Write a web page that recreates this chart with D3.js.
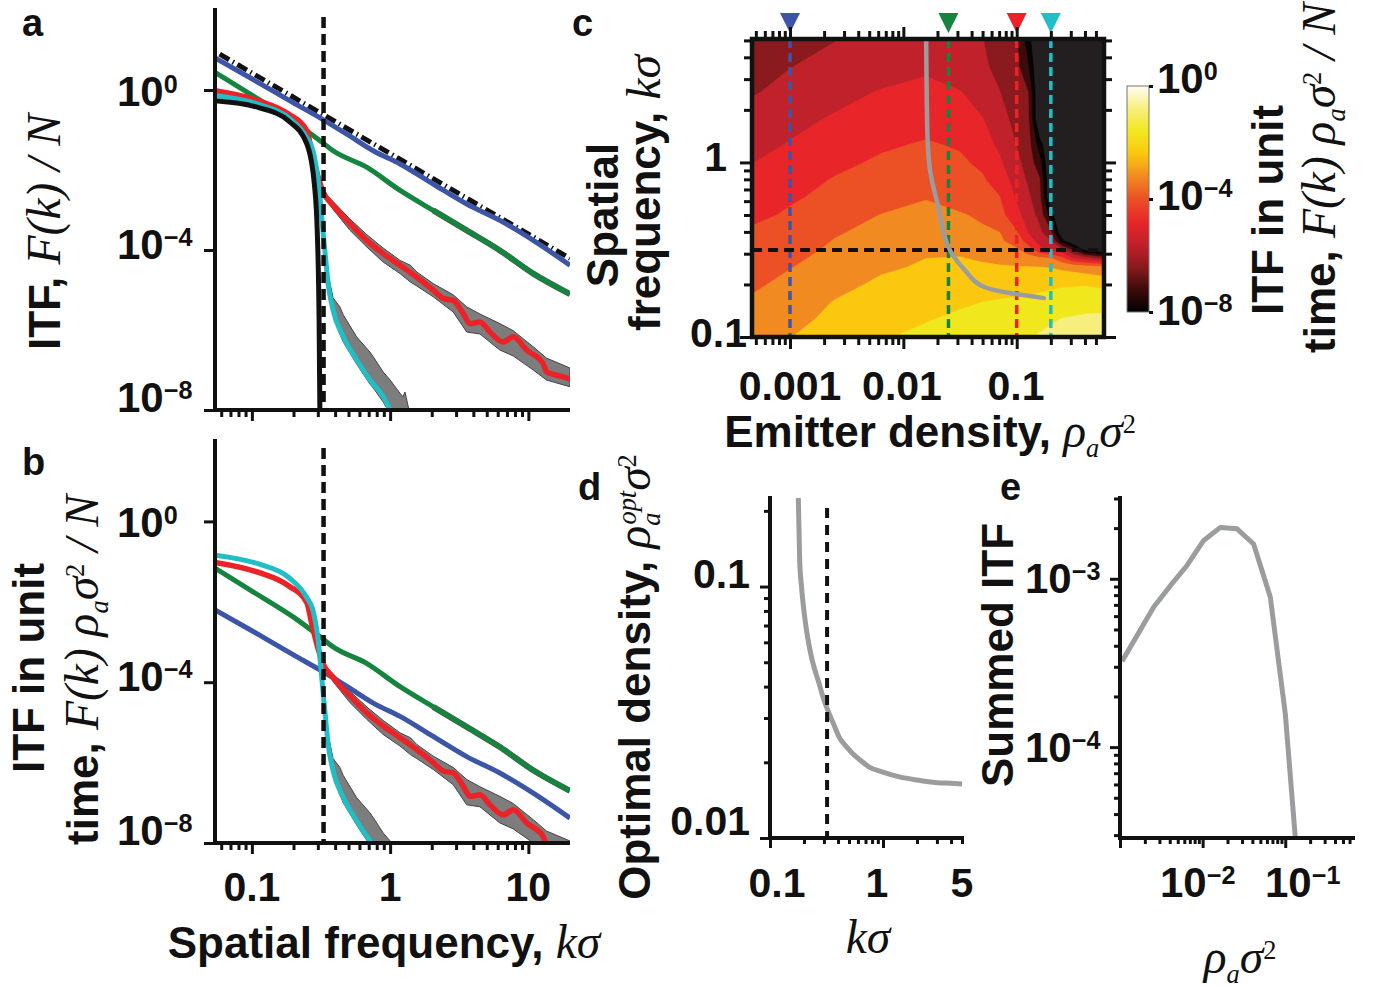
<!DOCTYPE html>
<html>
<head>
<meta charset="utf-8">
<script src="https://cdn.jsdelivr.net/npm/d3@7"></script>
<style>
  body { margin: 0; background: #fff; }
  svg { display: block; }
</style>
</head>
<body>
<svg id="fig" width="1373" height="988"></svg>
<script>
// ---- panel a / b : ITF curves (log10 of F(k)/N) ----
const kRef = [0.0585, 20];
const itfRef = [0.895, -4.21];

const kBlue = [0.0541, 0.1, 0.2, 0.32, 0.5, 0.755, 1.18, 2.05, 3.58, 6.22, 10.85, 20];
const itfBlue = [0.8, 0.28, -0.32, -0.72, -1.13, -1.52, -1.85, -2.35, -2.85, -3.26, -3.76, -4.38];

const kGreen = [0.0541, 0.1, 0.2, 0.32, 0.387, 0.676, 1.18, 2.05, 3.58, 6.22, 10.85, 20];
const itfGreen = [0.44, -0.13, -0.78, -1.3, -1.52, -1.93, -2.51, -3.01, -3.51, -4.01, -4.59, -5.1];

const kRed = [0.0541, 0.112, 0.184, 0.25, 0.27, 0.302, 0.328, 0.387, 0.512, 0.676, 0.891, 1.18, 1.56,
  2.05, 2.42, 2.86, 3.38, 3.78, 4.46, 5.27, 6.58, 7.78, 9.7, 12.8, 13.5, 17.9, 20];
const itfRed = [-0.02, -0.27, -0.6, -1.02, -1.52, -2.18, -2.55, -2.89, -3.34, -3.76, -4.09, -4.38, -4.68,
  -5.0, -5.21, -5.26, -5.59, -5.84, -5.8, -6.05, -6.3, -6.17, -6.5, -6.84, -7.04, -7.17, -7.22];

const kCyan = [0.0541, 0.112, 0.184, 0.25, 0.277, 0.3, 0.315, 0.328, 0.337, 0.356, 0.387, 0.458, 0.572,
  0.714, 0.891, 1.0, 1.1];
const itfCyan = [-0.14, -0.36, -0.69, -1.2, -1.52, -2.2, -2.9, -3.59, -4.0, -4.84, -5.51, -6.17, -6.75,
  -7.25, -7.67, -8.0, -8.3];

const kIdeal = [0.0541, 0.112, 0.184, 0.25, 0.283, 0.2975, 0.305, 0.3104, 0.312];
const itfIdeal = [-0.27, -0.44, -0.77, -1.35, -2.35, -3.59, -5.26, -8.05, -10];

// grey spread around the red and cyan curves
const kRedBand = [0.33, 0.39, 0.51, 0.68, 0.89, 1.18, 1.4, 1.56, 2.05, 2.86, 3.58, 4.46, 6.22, 7.78, 10.85, 13.5, 20];
const redBandHi = [-2.55, -2.8, -3.22, -3.62, -3.95, -4.26, -4.38, -4.55, -4.84, -5.12, -5.42, -5.6, -5.84,
  -6.02, -6.42, -6.7, -6.95];
const redBandLo = [-2.65, -3.0, -3.5, -3.93, -4.3, -4.59, -4.8, -4.9, -5.17, -5.55, -6.05, -6.1, -6.5,
  -6.65, -7.0, -7.25, -7.42];

const kCyanBand = [0.337, 0.356, 0.387, 0.433, 0.458, 0.572, 0.714, 0.755, 0.891, 1.0, 1.177, 1.24, 1.28, 1.39];
const cyanBandHi = [-3.95, -4.6, -5.2, -5.42, -5.62, -6.17, -6.55, -6.67, -7.05, -7.25, -7.58, -7.67, -7.55, -8.1];
const cyanBandLo = [-4.05, -4.95, -5.65, -6.1, -6.3, -6.85, -7.35, -7.45, -7.8, -8.1, -8.3, -8.4, -8.4, -8.4];

// emitter densities of the four example curves (rho_a sigma^2)
const exampleDensity = [0.001, 0.025, 0.1, 0.2];
const exampleColor = ["#3d55a6", "#15843f", "#ec2227", "#22bec7"];

// ---- panel c : log10 ITF per unit time on a (density, k) grid ----
const gridLogRho = [-3.335, -3.0, -2.6, -2.2, -1.8, -1.5, -1.3, -1.15, -1.0, -0.9, -0.8, -0.7, -0.6, -0.5, -0.4, -0.23];
const gridLogK = [0.7, 0.55, 0.4, 0.25, 0.1, 0, -0.1, -0.2, -0.3, -0.4, -0.45, -0.5, -0.55, -0.6, -0.7, -0.8, -0.9, -1.0];
const itfGrid = [
  [-6.2, -5.93, -5.61, -5.41, -5.22, -5.44, -5.58, -5.94, -6.32, -7.68, -9, -9, -9, -9, -9, -9],
  [-5.89, -5.62, -5.39, -5.16, -4.92, -5.26, -5.5, -5.78, -6.21, -7.13, -9, -9, -9, -9, -9, -9],
  [-5.66, -5.38, -5.04, -4.75, -4.6, -4.76, -5.17, -5.58, -6.05, -6.37, -9, -9, -9, -9, -9, -9],
  [-5.3, -5.02, -4.72, -4.5, -4.27, -4.58, -4.78, -5.31, -5.86, -6.22, -9, -9, -9, -9, -9, -9],
  [-5.03, -4.75, -4.42, -4.1, -3.93, -4.07, -4.52, -4.93, -5.62, -6.06, -7.6, -9, -9, -9, -9, -9],
  [-4.82, -4.53, -4.17, -3.9, -3.7, -3.89, -4.15, -4.7, -5.41, -5.93, -6.9, -9, -9, -9, -9, -9],
  [-4.56, -4.28, -3.95, -3.71, -3.47, -3.74, -3.92, -4.34, -5.17, -5.71, -6.32, -9, -9, -9, -9, -9],
  [-4.38, -4.1, -3.8, -3.52, -3.24, -3.58, -3.8, -3.98, -4.92, -5.46, -6.14, -9, -9, -9, -9, -9],
  [-4.2, -3.9, -3.54, -3.19, -2.99, -3.13, -3.35, -3.75, -4.56, -5.2, -5.83, -7.68, -9, -9, -9, -9],
  [-3.88, -3.6, -3.26, -3.02, -2.81, -2.9, -3.07, -3.2, -3.95, -4.82, -5.42, -6.24, -9, -9, -9, -9],
  [-3.79, -3.5, -3.17, -2.95, -2.73, -2.75, -2.94, -3.09, -3.52, -4.39, -5.08, -5.6, -7.71, -9, -9, -9],
  [-3.7, -3.41, -3.1, -2.87, -2.64, -2.52, -2.77, -2.94, -3.12, -3.58, -4.57, -5.07, -5.44, -6.6, -8.3, -9],
  [-3.6, -3.32, -3.0, -2.7, -2.4, -2.37, -2.49, -2.65, -2.82, -2.93, -3.03, -3.14, -3.78, -4.8, -5.16, -5.9],
  [-3.52, -3.23, -2.87, -2.51, -2.32, -2.25, -2.29, -2.32, -2.35, -2.37, -2.39, -2.44, -2.57, -2.7, -2.84, -3.08],
  [-3.32, -3.01, -2.62, -2.27, -2.07, -1.98, -1.93, -1.9, -1.85, -1.83, -1.81, -1.74, -1.69, -1.68, -1.65, -1.79],
  [-3.1, -2.81, -2.36, -2.07, -1.86, -1.71, -1.6, -1.55, -1.49, -1.45, -1.37, -1.29, -1.2, -1.14, -1.06, -1.04],
  [-2.9, -2.59, -2.24, -1.94, -1.65, -1.45, -1.35, -1.32, -1.22, -1.15, -1.04, -0.89, -0.77, -0.72, -0.68, -0.66],
  [-2.72, -2.42, -2.04, -1.68, -1.4, -1.19, -1.09, -1.0, -0.93, -0.86, -0.72, -0.6, -0.5, -0.45, -0.4, -0.38],
];
const itfLevels = [-8, -7.2, -6.4, -5.6, -4.8, -4.0, -3.2, -2.4, -1.6, -0.8];
const levelColors = ["#070303", "#3d0b0c", "#8a1a1d", "#c1212a", "#e8262a", "#eb5125", "#f18b21",
  "#fbc70f", "#f1e71d", "#f6ef7e"];

// optimal density ridge drawn over panel c
const ridgeK = [5.16, 1.47, 0.9, 0.575, 0.314, 0.241, 0.192, 0.178, 0.167];
const ridgeRho = [0.0159, 0.0163, 0.0172, 0.0201, 0.0258, 0.035, 0.0532, 0.0892, 0.174];

// ---- panel d : optimal density vs k sigma ----
const optK = [0.178, 0.183, 0.19, 0.199, 0.215, 0.236, 0.27, 0.3, 0.333, 0.37, 0.409, 0.47, 0.538, 0.62,
  0.75, 1.0, 1.4, 2.0, 3.0, 4.0, 5.0];
const optRho = [0.225, 0.128, 0.1, 0.081, 0.063, 0.051, 0.0416, 0.0354, 0.0313, 0.028, 0.0252, 0.0232, 0.0217,
  0.0205, 0.0192, 0.0183, 0.0175, 0.017, 0.0166, 0.0165, 0.0164];

// ---- panel e : summed ITF vs density ----
const sumRho = [0.00106, 0.00256, 0.00407, 0.00647, 0.0103, 0.0164, 0.0261, 0.0414, 0.0659, 0.1, 0.132];
const sumItf = [3.24e-4, 6.8e-4, 9.1e-4, 1.2e-3, 1.69e-3, 2.02e-3, 1.98e-3, 1.61e-3, 7.8e-4, 1.59e-4, 2.95e-5];

const FONT_B = '"Liberation Sans", Arial, Helvetica, sans-serif';
const FONT_S = '"Liberation Serif", "Times New Roman", serif';
const INK = "#111";
const GREY = "#9b9c9e";

const svg = d3.select("#fig");
const defs = svg.append("defs");

function richText(parent, parts, { x, y, size, anchor = "start", rotate = 0 }) {
  const text = parent.append("text")
    .attr("transform", `translate(${x},${y}) rotate(${rotate})`)
    .attr("text-anchor", anchor)
    .attr("font-size", size)
    .attr("fill", INK);
  let offset = 0;
  parts.forEach(([str, style, pos, dx]) => {
    const fs = pos ? size * 0.6 : style === "b" ? size : size * 1.08;
    const target = pos === "sup" ? -size * 0.31 : pos === "sub" ? size * 0.22 : 0;
    const span = text.append("tspan").text(str)
      .attr("font-family", style === "b" ? FONT_B : FONT_S)
      .attr("font-weight", style === "b" ? "bold" : "normal")
      .attr("font-style", style === "m" ? "italic" : "normal")
      .attr("font-size", fs);
    if (target !== offset) span.attr("dy", target - offset);
    if (dx) span.attr("dx", dx);
    offset = target;
  });
  return text;
}

function powLabel(g, x, y, exp, anchor = "start") {
  richText(g, [["10", "b"], [exp, "b", "sup"]], { x, y, size: 42, anchor });
}

function plainLabel(g, x, y, str, anchor = "middle") {
  richText(g, [[str, "b"]], { x, y, size: 41, anchor });
}

function minorTicks(lo, hi) {
  const out = [];
  for (let e = Math.floor(Math.log10(lo)) - 1; e <= Math.ceil(Math.log10(hi)); e++) {
    for (let m = 2; m <= 9; m++) {
      const v = m * 10 ** e;
      if (v >= lo * 0.999 && v <= hi * 1.001) out.push(v);
    }
  }
  return out;
}

function ticks(g, axisFn, scale, values, size, transform) {
  g.append("g")
    .attr("transform", transform)
    .call(axisFn(scale).tickValues(values).tickSize(size).tickFormat(""))
    .call((s) => s.select(".domain").remove())
    .selectAll("line")
    .attr("stroke", INK)
    .attr("stroke-width", 3);
}

function axisLine(g, x1, y1, x2, y2, w = 4) {
  g.append("line")
    .attr("x1", x1).attr("y1", y1).attr("x2", x2).attr("y2", y2)
    .attr("stroke", INK).attr("stroke-width", w).attr("stroke-linecap", "square");
}

function clipRect(id, x, y, w, h) {
  defs.append("clipPath").attr("id", id)
    .append("rect").attr("x", x).attr("y", y).attr("width", w).attr("height", h);
  return `url(#${id})`;
}

function panelLabel(ch, x, y) {
  richText(svg, [[ch, "b"]], { x, y, size: 38 });
}

// ---------------- panels a and b ----------------
const abX = d3.scaleLog().domain([0.0541, 19.35]).range([215, 568]);

function createItfPanel(id, top, bottom, perUnitTime) {
  const y = d3.scaleLinear().domain([-8, 2]).range([bottom, top]);
  const g = svg.append("g");
  const plot = g.append("g").attr("clip-path", clipRect(id, 215, top - 4, 355, bottom - top + 4));

  const shift = (i) => (perUnitTime ? Math.log10(exampleDensity[i]) : 0);
  const line = (ks, vs, s, curve = d3.curveLinear) =>
    d3.line().curve(curve).x((d, j) => abX(ks[j])).y((d) => y(d + s))(vs);
  const band = (ks, lo, hi, s) =>
    d3.area().x((d, j) => abX(ks[j])).y0((d, j) => y(lo[j] + s)).y1((d) => y(d + s))(hi);

  plot.append("path").attr("d", band(kRedBand, redBandLo, redBandHi, shift(2)))
    .attr("fill", "#7d7d7d").attr("stroke", "#444").attr("stroke-width", 1);
  plot.append("path").attr("d", band(kCyanBand, cyanBandLo, cyanBandHi, shift(3)))
    .attr("fill", "#7d7d7d").attr("stroke", "#444").attr("stroke-width", 1);

  if (!perUnitTime) {
    plot.append("path").attr("d", line(kRef, itfRef, 0))
      .attr("fill", "none").attr("stroke", INK).attr("stroke-width", 5)
      .attr("stroke-dasharray", "11,4,1.5,4");
  }

  // thin dark outline under the green curve at high k
  const gi = kGreen.findIndex((k) => k >= 1.5);
  plot.append("path").attr("d", line(kGreen.slice(gi), itfGreen.slice(gi), shift(1), d3.curveMonotoneX))
    .attr("fill", "none").attr("stroke", "#555").attr("stroke-width", 6);

  const curves = [
    [kBlue, itfBlue, 0, 5],
    [kGreen, itfGreen, 1, 5],
    [kRed, itfRed, 2, 5.5],
    [kCyan, itfCyan, 3, 5],
  ];
  curves.forEach(([ks, vs, i, w]) => {
    plot.append("path").attr("d", line(ks, vs, shift(i), d3.curveMonotoneX))
      .attr("fill", "none").attr("stroke", exampleColor[i]).attr("stroke-width", w)
      .attr("stroke-linejoin", "round");
  });

  if (!perUnitTime) {
    plot.append("path").attr("d", line(kIdeal, itfIdeal, 0, d3.curveMonotoneX))
      .attr("fill", "none").attr("stroke", INK).attr("stroke-width", 5);
  }

  // k sigma = 1/3 marker
  g.append("line")
    .attr("x1", abX(0.33)).attr("x2", abX(0.33))
    .attr("y1", top + 7).attr("y2", bottom)
    .attr("stroke", INK).attr("stroke-width", 4.5).attr("stroke-dasharray", "11,6");

  axisLine(g, 215, top, 215, bottom);
  axisLine(g, 215, bottom, 568, bottom);
  ticks(g, d3.axisBottom, abX, minorTicks(0.0541, 19.35), 7, `translate(0,${bottom})`);
  ticks(g, d3.axisBottom, abX, [0.1, 1, 10], 11, `translate(0,${bottom})`);
  ticks(g, d3.axisLeft, y, [0, -4, -8], 11, "translate(215,0)");

  const offs = [16, 9, 2];
  [["0", 0], ["\u22124", -4], ["\u22128", -8]].forEach(([e, v], i) => powLabel(g, 117, y(v) + offs[i], e));
  return g;
}

const gA = createItfPanel("clipA", 10, 410, false);
const gB = createItfPanel("clipB", 441, 843, true);

[["0.1", 0.1], ["1", 1], ["10", 10]].forEach(([t, v]) => plainLabel(gB, abX(v), 901, t));

richText(svg, [["ITF, ", "b"], ["F(k) / N", "m"]], { x: 60, y: 232, size: 44, anchor: "middle", rotate: -90 });
richText(svg, [["ITF in unit", "b"]], { x: 44, y: 668, size: 44, anchor: "middle", rotate: -90 });
richText(svg, [["time, ", "b"], ["F(k) \u03c1", "m"], ["a", "m", "sub"], ["\u03c3", "m"], ["2", "r", "sup"], [" / N", "m"]],
  { x: 98, y: 670, size: 44, anchor: "middle", rotate: -90 });
richText(svg, [["Spatial frequency, ", "b"], ["k\u03c3", "m"]], { x: 384, y: 958, size: 44, anchor: "middle" });

panelLabel("a", 22, 36);
panelLabel("b", 22, 475);

// ---------------- panel c ----------------
function createDensityMap() {
  const x = d3.scaleLog().domain([10 ** -3.335, 10 ** -0.23]).range([752, 1104]);
  const y = d3.scaleLog().domain([0.1, 10 ** 0.707]).range([337, 39]);
  const g = svg.append("g");
  const heat = g.append("g").attr("clip-path", clipRect("clipC", 752, 39, 352, 298));

  heat.append("rect").attr("x", 752).attr("y", 39).attr("width", 352).attr("height", 298).attr("fill", "#231f20");

  const nx = gridLogRho.length;
  const ny = gridLogK.length;
  const along = (c, arr) => {
    const f = Math.max(0, Math.min(arr.length - 1, c - 0.5));
    const i = Math.min(arr.length - 2, Math.floor(f));
    return arr[i] + (f - i) * (arr[i + 1] - arr[i]);
  };
  const toPx = ([cx, cy]) => [x(10 ** along(cx, gridLogRho)), y(10 ** along(cy, gridLogK))];
  const geo = d3.geoPath();
  d3.contours().size([nx, ny]).thresholds(itfLevels)(itfGrid.flat()).forEach((c, i) => {
    const poly = { type: "MultiPolygon", coordinates: c.coordinates.map((p) => p.map((r) => r.map(toPx))) };
    heat.append("path").attr("d", geo(poly)).attr("fill", levelColors[i])
      .attr("stroke", levelColors[i]).attr("stroke-width", 0.6);
  });

  // example densities
  exampleDensity.forEach((d, i) => {
    heat.append("line").attr("x1", x(d)).attr("x2", x(d)).attr("y1", 39).attr("y2", 337)
      .attr("stroke", exampleColor[i]).attr("stroke-width", 3.5).attr("stroke-dasharray", "9,5");
    const cx = x(d);
    g.append("path").attr("d", `M${cx - 10},13L${cx + 10},13L${cx},33Z`).attr("fill", exampleColor[i]);
  });
  heat.append("line").attr("x1", 752).attr("x2", 1104).attr("y1", y(0.315)).attr("y2", y(0.315))
    .attr("stroke", INK).attr("stroke-width", 4).attr("stroke-dasharray", "10,6");

  heat.append("path")
    .attr("d", d3.line().curve(d3.curveMonotoneY).x((d, j) => x(ridgeRho[j])).y((d) => y(d))(ridgeK))
    .attr("fill", "none").attr("stroke", GREY).attr("stroke-width", 4.5).attr("stroke-linecap", "round");

  g.append("rect").attr("x", 752).attr("y", 39).attr("width", 352).attr("height", 298)
    .attr("fill", "none").attr("stroke", INK).attr("stroke-width", 4.5);

  const xMinor = minorTicks(10 ** -3.335, 10 ** -0.23);
  const yMinor = minorTicks(0.1, 10 ** 0.707);
  ticks(g, d3.axisBottom, x, xMinor, 6, "translate(0,339)");
  ticks(g, d3.axisBottom, x, [0.001, 0.01, 0.1], 10, "translate(0,339)");
  ticks(g, d3.axisTop, x, xMinor, 6, "translate(0,37)");
  ticks(g, d3.axisTop, x, [0.001, 0.01, 0.1], 10, "translate(0,37)");
  ticks(g, d3.axisLeft, y, yMinor, 6, "translate(750,0)");
  ticks(g, d3.axisLeft, y, [0.1, 1], 10, "translate(750,0)");
  ticks(g, d3.axisRight, y, yMinor, 6, "translate(1106,0)");
  ticks(g, d3.axisRight, y, [0.1, 1], 10, "translate(1106,0)");

  plainLabel(g, 790, 400, "0.001");
  plainLabel(g, 902, 400, "0.01");
  plainLabel(g, 1016, 400, "0.1");
  plainLabel(g, 727, 171, "1", "end");
  plainLabel(g, 747, 347, "0.1", "end");

  richText(g, [["Spatial", "b"]], { x: 618, y: 215, size: 44, anchor: "middle", rotate: -90 });
  richText(g, [["frequency, ", "b"], ["k\u03c3", "m"]], { x: 660, y: 193, size: 44, anchor: "middle", rotate: -90 });
  richText(g, [["Emitter density, ", "b"], ["\u03c1", "m"], ["a", "m", "sub"], ["\u03c3", "m"], ["2", "r", "sup"]],
    { x: 930, y: 447, size: 44, anchor: "middle" });

  // colour bar
  const grad = defs.append("linearGradient").attr("id", "hotbar")
    .attr("x1", 0).attr("y1", 1).attr("x2", 0).attr("y2", 0);
  const barColors = ["#000000", ...levelColors.slice(1), "#fffdf4"];
  barColors.forEach((c, i) => grad.append("stop").attr("offset", i / (barColors.length - 1)).attr("stop-color", c));
  const barY = d3.scaleLinear().domain([-8, 0]).range([312, 86]);
  g.append("rect").attr("x", 1127).attr("y", 86).attr("width", 22).attr("height", 226)
    .attr("fill", "url(#hotbar)").attr("stroke", "#777").attr("stroke-width", 1);
  ticks(g, d3.axisRight, barY, [0, -4, -8], 4, "translate(1149,0)");
  const barOffs = [7, 11, 13];
  [["0", 0], ["\u22124", -4], ["\u22128", -8]].forEach(([e, v], i) => powLabel(g, 1157, barY(v) + barOffs[i], e));

  richText(g, [["ITF in unit", "b"]], { x: 1283, y: 210, size: 44, anchor: "middle", rotate: -90 });
  richText(g, [["time, ", "b"], ["F(k) \u03c1", "m"], ["a", "m", "sub"], ["\u03c3", "m"], ["2", "r", "sup"], [" / N", "m"]],
    { x: 1335, y: 178, size: 44, anchor: "middle", rotate: -90 });
}
createDensityMap();
panelLabel("c", 572, 36);

// ---------------- panel d ----------------
function createOptimalPanel() {
  const x = d3.scaleLog().domain([0.1, 5]).range([770, 962]);
  const y = d3.scaleLog().domain([0.01, 0.225]).range([838, 498]);
  const g = svg.append("g");
  const plot = g.append("g").attr("clip-path", clipRect("clipD", 770, 498, 200, 340));

  plot.append("path")
    .attr("d", d3.line().curve(d3.curveMonotoneX).x((d, j) => x(optK[j])).y((d) => y(d))(optRho))
    .attr("fill", "none").attr("stroke", GREY).attr("stroke-width", 5).attr("stroke-linejoin", "round");

  g.append("line").attr("x1", x(0.32)).attr("x2", x(0.32)).attr("y1", 508).attr("y2", 838)
    .attr("stroke", INK).attr("stroke-width", 4).attr("stroke-dasharray", "10,7");

  axisLine(g, 770, 498, 770, 838);
  axisLine(g, 770, 838, 962, 838);
  ticks(g, d3.axisLeft, y, minorTicks(0.01, 0.225), 6, "translate(770,0)");
  ticks(g, d3.axisLeft, y, [0.01, 0.1], 10, "translate(770,0)");
  ticks(g, d3.axisBottom, x, minorTicks(0.1, 5), 6, "translate(0,838)");
  ticks(g, d3.axisBottom, x, [0.1, 1], 10, "translate(0,838)");

  plainLabel(g, 750, 588, "0.1", "end");
  plainLabel(g, 750, 835, "0.01", "end");
  plainLabel(g, 777, 897, "0.1");
  plainLabel(g, 877, 897, "1");
  plainLabel(g, 962, 897, "5");

  richText(g, [["Optimal density, ", "b"], ["\u03c1", "m"], ["a", "m", "sub"], ["opt", "m", "sup", -12],
    ["\u03c3", "m"], ["2", "r", "sup"]], { x: 650, y: 677, size: 44, anchor: "middle", rotate: -90 });
  richText(g, [["k\u03c3", "m"]], { x: 868, y: 953, size: 44, anchor: "middle" });
}
createOptimalPanel();
panelLabel("d", 578, 500);

// ---------------- panel e ----------------
function createSummedPanel() {
  const x = d3.scaleLog().domain([0.001, 10 ** -0.18]).range([1120, 1353]);
  const y = d3.scaleLog().domain([10 ** -4.54, 10 ** -2.52]).range([838, 498]);
  const g = svg.append("g");
  const plot = g.append("g").attr("clip-path", clipRect("clipE", 1120, 498, 235, 340));

  plot.append("path")
    .attr("d", d3.line().x((d, j) => x(sumRho[j])).y((d) => y(d))(sumItf))
    .attr("fill", "none").attr("stroke", GREY).attr("stroke-width", 5).attr("stroke-linejoin", "round");

  axisLine(g, 1120, 498, 1120, 838);
  axisLine(g, 1120, 838, 1353, 838);
  ticks(g, d3.axisLeft, y, minorTicks(10 ** -4.54, 10 ** -2.52), 6, "translate(1120,0)");
  ticks(g, d3.axisLeft, y, [1e-4, 1e-3], 10, "translate(1120,0)");
  ticks(g, d3.axisBottom, x, minorTicks(0.001, 10 ** -0.18), 6, "translate(0,838)");
  ticks(g, d3.axisBottom, x, [0.001, 0.01, 0.1], 10, "translate(0,838)");

  powLabel(g, 1025, 593, "\u22123");
  powLabel(g, 1025, 762, "\u22124");
  powLabel(g, 1160, 897, "\u22122");
  powLabel(g, 1265, 897, "\u22121");

  richText(g, [["Summed ITF", "b"]], { x: 1013, y: 655, size: 44, anchor: "middle", rotate: -90 });
  richText(g, [["\u03c1", "m"], ["a", "m", "sub"], ["\u03c3", "m"], ["2", "r", "sup"]],
    { x: 1240, y: 973, size: 44, anchor: "middle" });
}
createSummedPanel();
panelLabel("e", 1000, 500);
</script>
</body>
</html>
